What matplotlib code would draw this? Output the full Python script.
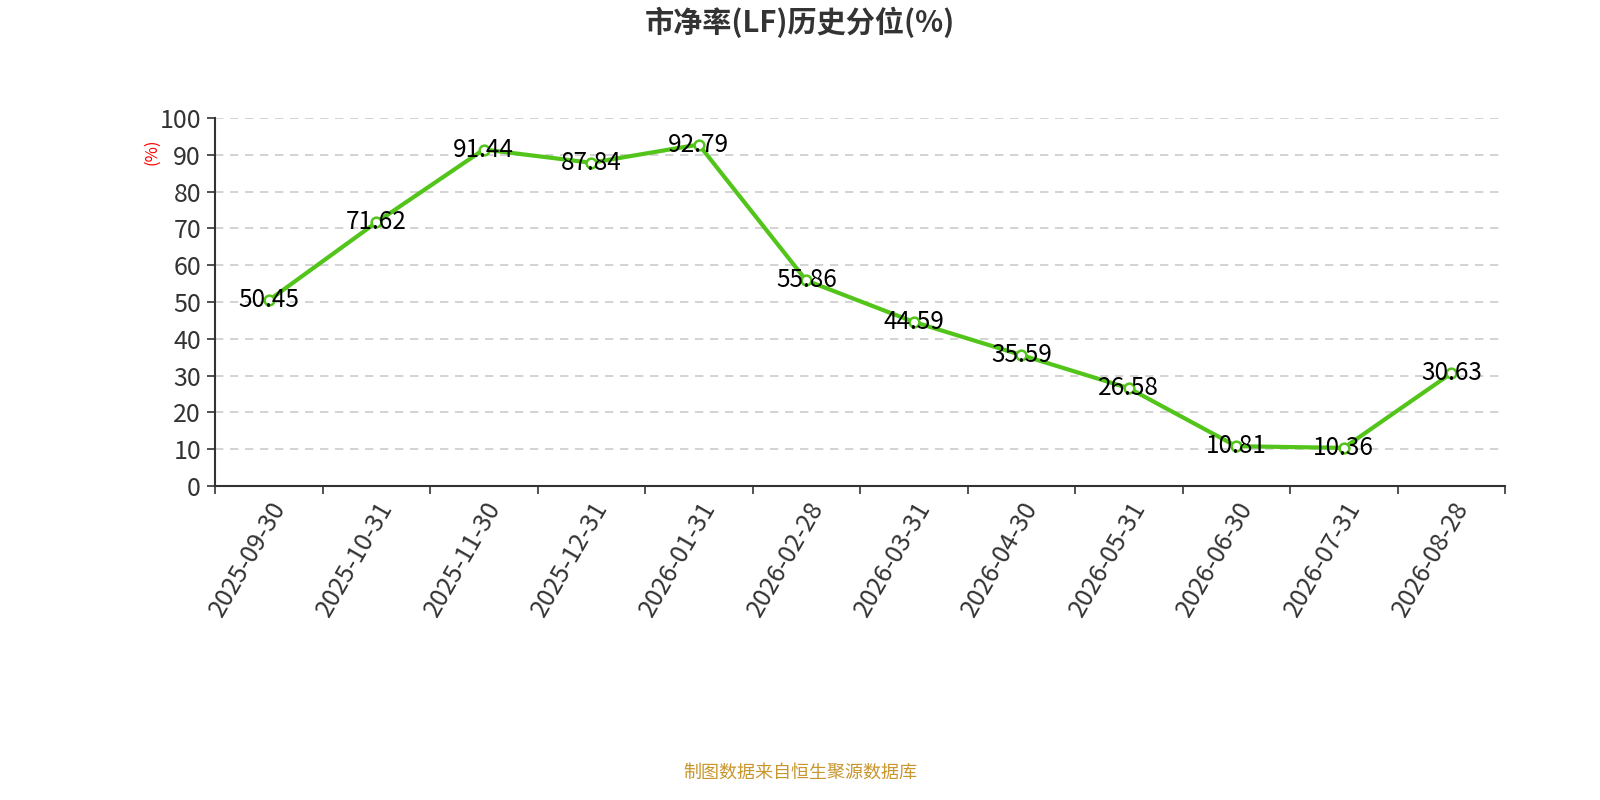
import numpy as np
import matplotlib
matplotlib.use('Agg')
import matplotlib.pyplot as plt

plt.rcParams['font.family'] = ['Noto Sans CJK SC', 'DejaVu Sans']

# === DATA ===
dates = ['2025-09-30', '2025-10-31', '2025-11-30', '2025-12-31', '2026-01-31', '2026-02-28',
         '2026-03-31', '2026-04-30', '2026-05-31', '2026-06-30', '2026-07-31', '2026-08-28']
pb_pct = [50.45, 71.62, 91.44, 87.84, 92.79, 55.86, 44.59, 35.59, 26.58, 10.81, 10.36, 30.63]
y_ticks = [0, 10, 20, 30, 40, 50, 60, 70, 80, 90, 100]

green = '#52c41a'
dark = '#333333'

fig = plt.figure(figsize=(16, 8), dpi=100)
ax = fig.add_axes([215/1600, 1-486/800, 1290/1600, 368/800])

x = np.arange(len(dates))
ax.plot(x, pb_pct, color=green, linewidth=3, marker='o', markersize=7,
        markerfacecolor='white', markeredgecolor=green, markeredgewidth=1.8, zorder=3)

for xi, v in zip(x, pb_pct):
    ax.text(xi, v, f'{v:.2f}', fontsize=17.5, color='black', ha='center', va='center', zorder=4)

ax.set_xlim(-0.5, len(dates) - 0.5)
ax.set_ylim(0, 100)
ax.set_yticks(y_ticks)
ax.set_yticklabels([str(t) for t in y_ticks], fontsize=18, color=dark)
ax.grid(axis='y', color='#cccccc', linestyle=(0, (5, 4)), linewidth=1.2)
ax.set_axisbelow(True)

# category ticks at band boundaries, labels at centres
ax.set_xticks(np.arange(len(dates) + 1) - 0.5)
ax.set_xticklabels([])
ax.set_xticks(x, minor=True)
ax.set_xticklabels(dates, minor=True, rotation=60, ha='right', va='top',
                   rotation_mode='anchor', fontsize=18, color=dark)
ax.tick_params(axis='x', which='minor', length=0, pad=8)
ax.tick_params(axis='x', which='major', length=6, width=1.2, color=dark)
ax.tick_params(axis='y', length=6, width=1.2, color=dark, pad=4)

for s in ['top', 'right']:
    ax.spines[s].set_visible(False)
for s in ['left', 'bottom']:
    ax.spines[s].set_color(dark)
    ax.spines[s].set_linewidth(1.5)

fig.text(152/1600, 1-152/800, '(%)', color='red', fontsize=12, rotation=90,
         ha='center', va='center')
fig.text(0.5, 1-22/800, '市净率(LF)历史分位(%)', fontsize=21, fontweight='bold',
         color=dark, ha='center', va='center')
fig.text(0.5, 1-773/800, '制图数据来自恒生聚源数据库', fontsize=13, color='#c8962c',
         ha='center', va='center')

plt.savefig('out.png', dpi=100)
